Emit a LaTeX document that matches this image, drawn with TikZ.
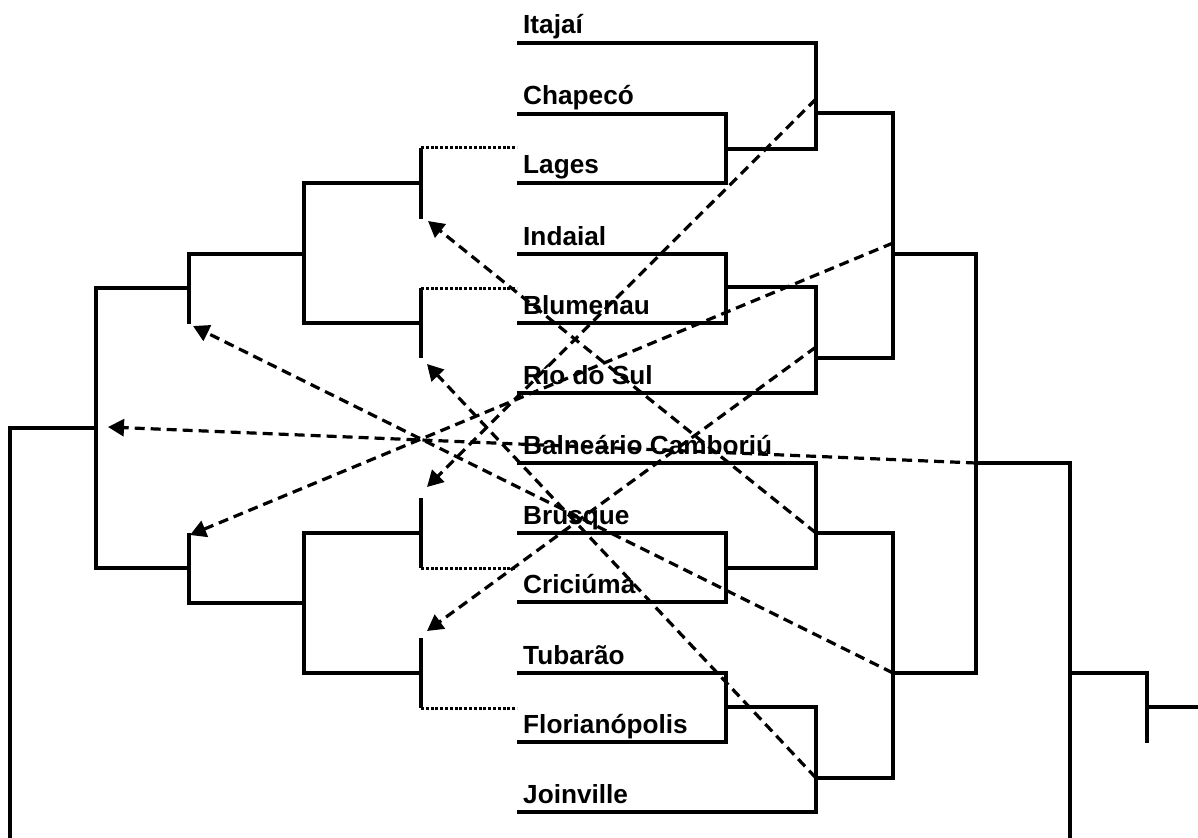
\documentclass[tikz,border=0pt]{standalone}
\usepackage{fontspec}
\setmainfont{Liberation Sans}
\usetikzlibrary{arrows.meta}
\begin{document}
\begin{tikzpicture}[x=1pt,y=-1pt,
  br/.style={line width=3.2pt},
  dotl/.style={line width=3pt, dash pattern=on 3pt off 1.8pt},
  arr/.style={line width=3.2pt, dash pattern=on 10pt off 6pt, -{Triangle[length=16pt,width=17pt]}},
  lbl/.style={anchor=base west, inner sep=0pt, font=\bfseries\fontsize{26.2}{30}\selectfont}]
\fill[white] (0,0) rectangle (1198,837);
\useasboundingbox (0,0) rectangle (1198,837);
% leaves
\coordinate (It) at (517,43);
\coordinate (Ch) at (517,114);
\coordinate (La) at (517,183);
\coordinate (In) at (517,254);
\coordinate (Bl) at (517,323);
\coordinate (Ri) at (517,393);
\coordinate (Ba) at (517,463);
\coordinate (Br) at (517,533);
\coordinate (Cr) at (517,602);
\coordinate (Tu) at (517,673);
\coordinate (Fl) at (517,742);
\coordinate (Jo) at (517,812);
% labels
\node[lbl] (tIt) at (523,34) {Itajaí};
\node[lbl] (tCh) at (523,105) {Chapecó};
\node[lbl] (tLa) at (523,174) {Lages};
\node[lbl] (tIn) at (523,245) {Indaial};
\node[lbl] (tBl) at (523,314) {Blumenau};
\node[lbl] (tRi) at (523,384) {Río do Sul};
\node[lbl] (tBa) at (523,454) {Balneário Camboriú};
\node[lbl] (tBr) at (523,524) {Brusque};
\node[lbl] (tCr) at (523,593) {Criciúma};
\node[lbl] (tTu) at (523,664) {Tubarão};
\node[lbl] (tFl) at (523,733) {Florianópolis};
\node[lbl] (tJo) at (523,803) {Joinville};
% right tree junctions
\coordinate (r1) at (726,149);
\coordinate (r2) at (816,113);
\coordinate (r3) at (726,287);
\coordinate (r4) at (816,358);
\coordinate (r5) at (893,254);
\coordinate (r6) at (726,568);
\coordinate (r7) at (816,533);
\coordinate (r8) at (726,707);
\coordinate (r9) at (816,778);
\coordinate (r10) at (893,673);
\coordinate (r11) at (976,463);
\coordinate (r12) at (1070,673);
\coordinate (r12b) at (1070,845);
\coordinate (r13) at (1147,707);
\coordinate (r13b) at (1147,743);
\coordinate (rend) at (1200,707);
\draw[br] (Ch) -| (r1) |- (La);
\draw[br] (It) -| (r2) |- (r1);
\draw[br] (In) -| (r3) |- (Bl);
\draw[br] (r3) -| (r4) |- (Ri);
\draw[br] (r2) -| (r5) |- (r4);
\draw[br] (Br) -| (r6) |- (Cr);
\draw[br] (Ba) -| (r7) |- (r6);
\draw[br] (Tu) -| (r8) |- (Fl);
\draw[br] (r8) -| (r9) |- (Jo);
\draw[br] (r7) -| (r10) |- (r9);
\draw[br] (r5) -| (r11) |- (r10);
\draw[br] (r11) -| (r12b);
\draw[br] (r12) -| (r13b);
\draw[br] (r13) -- (rend);
% left tree
\coordinate (l1t) at (421,148);
\coordinate (l1) at (421,183);
\coordinate (l1b) at (421,219);
\coordinate (d1) at (517,148);
\coordinate (l2t) at (421,288);
\coordinate (l2) at (421,323);
\coordinate (l2b) at (421,358);
\coordinate (d2) at (517,288);
\coordinate (l3) at (304,254);
\coordinate (l4) at (189,288);
\coordinate (l4b) at (189,324);
\coordinate (l5t) at (421,498);
\coordinate (l5) at (421,533);
\coordinate (l5b) at (421,568);
\coordinate (d5) at (517,568);
\coordinate (l6t) at (421,638);
\coordinate (l6) at (421,673);
\coordinate (l6b) at (421,708);
\coordinate (d6) at (517,708);
\coordinate (l7) at (304,603);
\coordinate (l8t) at (189,533);
\coordinate (l8) at (189,568);
\coordinate (l9) at (96,428);
\coordinate (l10b) at (10,845);
\draw[dotl] (l1t) -- (d1);
\draw[dotl] (l2t) -- (d2);
\draw[dotl] (l5b) -- (d5);
\draw[dotl] (l6b) -- (d6);
\draw[br] (l1t) -- (l1b);
\draw[br] (l2t) -- (l2b);
\draw[br] (l5t) -- (l5b);
\draw[br] (l6t) -- (l6b);
\draw[br] (l1) -| (l3) |- (l2);
\draw[br] (l3) -| (l4b);
\draw[br] (l5) -| (l7) |- (l6);
\draw[br] (l7) -| (l8t);
\draw[br] (l4) -| (l9) |- (l8);
\draw[br] (l9) -| (l10b);
% arrows
\coordinate (a1e) at (428,221);
\coordinate (a2e) at (193,326);
\coordinate (a3e) at (427,364);
\coordinate (a4e) at (108,427);
\coordinate (a5s) at (816,99);
\coordinate (a5e) at (427,487);
\coordinate (a6s) at (893,243);
\coordinate (a6e) at (190,535);
\coordinate (a7s) at (816,347);
\coordinate (a7e) at (427,631);
\draw[arr] (r7) -- (a1e);
\draw[arr] (r10) -- (a2e);
\draw[arr] (r9) -- (a3e);
\draw[arr] (r11) -- (a4e);
\draw[arr] (a5s) -- (a5e);
\draw[arr] (a6s) -- (a6e);
\draw[arr] (a7s) -- (a7e);
\end{tikzpicture}
\end{document}
